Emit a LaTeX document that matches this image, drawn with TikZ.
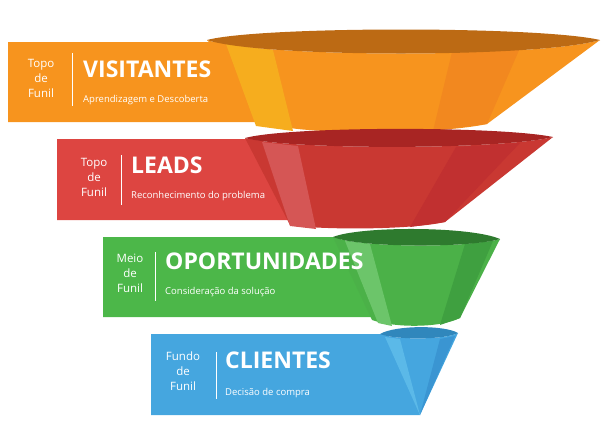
\documentclass[tikz,border=0pt]{standalone}
\usepackage{fontspec}
\setmainfont{Open Sans}
\begin{document}
\begin{tikzpicture}[x=1pt,y=-1pt,
  small/.style={text=white,font=\fontsize{11.5}{15}\selectfont,align=center,anchor=center},
  ttl/.style={text=white,font=\fontsize{23}{24}\selectfont\bfseries,anchor=base west,inner sep=0},
  sub/.style={text=white,font=\fontsize{9.5}{11}\selectfont,anchor=base west,inner sep=0},
  sep/.style={draw=white,line width=0.8pt}]
\useasboundingbox (0,0) rectangle (605,424);
% ---------- orange ----------
\fill[color={rgb,255:red,247;green,148;blue,30}] (8,42) -- (230,42) -- (270,122) -- (8,122) -- cycle;
\fill[color={rgb,255:red,247;green,148;blue,30}] (207,40) .. controls (260,58) and (540,58) .. (600,40) -- (487,124) .. controls (440,134) and (330,134) .. (290,128) -- cycle;
\fill[color={rgb,255:red,246;green,173;blue,30}] (226,44) -- (273,50) -- (293,131) -- (256,126) -- cycle;
\fill[color={rgb,255:red,242;green,136;blue,31}] (452,52) -- (520,48) -- (487,124) -- (433,131) -- cycle;
\fill[color={rgb,255:red,188;green,106;blue,20}] (207,40) .. controls (260,26) and (540,26) .. (600,40) .. controls (540,58) and (260,58) .. (207,40) -- cycle;
% ---------- red ----------
\fill[color={rgb,255:red,221;green,69;blue,65}] (57,139) -- (262,139) -- (300,220) -- (57,220) -- cycle;
\fill[color={rgb,255:red,201;green,56;blue,50}] (245,138) .. controls (290,150) and (500,150) .. (553,137) -- (445,222) .. controls (410,230) and (320,230) .. (290,225) -- cycle;
\fill[color={rgb,255:red,213;green,86;blue,85}] (262,142) -- (298,146) -- (316,229) -- (290,226) -- cycle;
\fill[color={rgb,255:red,193;green,48;blue,48}] (456,147) -- (520,143) -- (445,222) -- (410,227) -- cycle;
\fill[color={rgb,255:red,168;green,37;blue,35}] (245,138) .. controls (290,126) and (500,126) .. (553,137) .. controls (500,150) and (290,150) .. (245,138) -- cycle;
% ---------- green ----------
\fill[color={rgb,255:red,76;green,183;blue,73}] (103,237) -- (340,237) -- (372,317) -- (103,317) -- cycle;
\fill[color={rgb,255:red,75;green,177;blue,72}] (333,237) .. controls (360,248) and (470,248) .. (500,239) -- (460,318) .. controls (440,328) and (395,328) .. (372,320) -- cycle;
\fill[color={rgb,255:red,108;green,197;blue,106}] (345,241) -- (370,244) -- (392,326) -- (378,323) -- cycle;
\fill[color={rgb,255:red,63;green,160;blue,64}] (465,244) -- (493,241) -- (460,318) -- (440,325) -- cycle;
\fill[color={rgb,255:red,46;green,122;blue,46}] (333,237) .. controls (360,226) and (470,226) .. (500,239) .. controls (470,248) and (360,248) .. (333,237) -- cycle;
% ---------- blue ----------
\fill[color={rgb,255:red,69;green,166;blue,223}] (151,334) -- (385,334) -- (420,415) -- (151,415) -- cycle;
\fill[color={rgb,255:red,69;green,166;blue,223}] (380,334) .. controls (395,340) and (445,340) .. (458,333) -- (420,415) -- cycle;
\fill[color={rgb,255:red,91;green,185;blue,232}] (385,337) -- (400,339) -- (420,415) -- cycle;
\fill[color={rgb,255:red,58;green,149;blue,210}] (440,339) -- (455,336) -- (420,415) -- cycle;
\fill[color={rgb,255:red,48;green,135;blue,188}] (380,334) .. controls (395,325) and (445,325) .. (458,333) .. controls (445,340) and (395,340) .. (380,334) -- cycle;
% ---------- texts ----------
\node[small] (s1) at (41,78) {Topo\\de\\Funil};
\draw[sep] (72,53) -- (72,106);
\node[ttl] (t1) at (83,77) {VISITANTES};
\node[sub] (u1) at (83,102) {Aprendizagem e Descoberta};
\node[small] (s2) at (94,177) {Topo\\de\\Funil};
\draw[sep] (121,155) -- (121,205);
\node[ttl] (t2) at (131,173) {LEADS};
\node[sub] (u2) at (131,198) {Reconhecimento do problema};
\node[small] (s3) at (130,273) {Meio\\de\\Funil};
\draw[sep] (155,252) -- (155,301);
\node[ttl] (t3) at (165,269) {OPORTUNIDADES};
\node[sub] (u3) at (165,294) {Consideração da solução};
\node[small] (s4) at (183,371) {Fundo\\de\\Funil};
\draw[sep] (216,352) -- (216,399);
\node[ttl] (t4) at (225,368) {CLIENTES};
\node[sub] (u4) at (225,395) {Decisão de compra};
\end{tikzpicture}
\end{document}
